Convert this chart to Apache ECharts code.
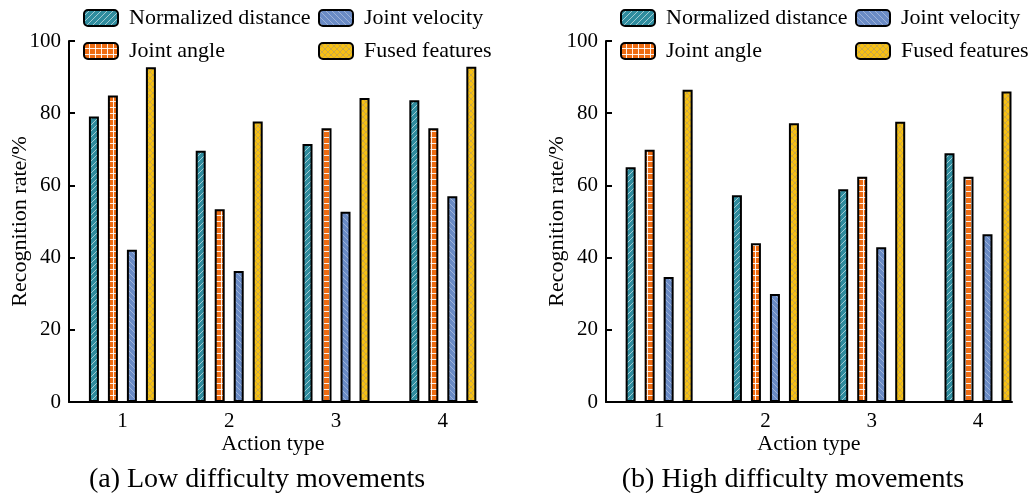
<!DOCTYPE html>
<html>
<head>
<meta charset="utf-8">
<script src="https://cdn.jsdelivr.net/npm/echarts@6/dist/echarts.min.js"></script>
<style>
  html, body { margin: 0; padding: 0; background: #fff; }
  #main { width: 1029px; height: 501px; }
</style>
</head>
<body>
<div id="main"></div>
<script>
// action types on the x axis
const categories = [1, 2, 3, 4];
const seriesNames = ['Normalized distance', 'Joint angle', 'Joint velocity', 'Fused features'];

// (a) low difficulty movements, recognition rate in %
const lowDist  = [79.1, 69.6, 71.5, 83.6];
const lowAngle = [84.9, 53.4, 75.8, 75.8];
const lowVel   = [42.2, 36.3, 52.7, 57.0];
const lowFused = [92.7, 77.7, 84.2, 92.9];

// (b) high difficulty movements
const highDist  = [65.0, 57.3, 58.9, 68.9];
const highAngle = [69.9, 44.0, 62.4, 62.4];
const highVel   = [34.6, 29.9, 42.9, 46.5];
const highFused = [86.5, 77.2, 77.6, 86.0];

const yTicks = [0, 20, 40, 60, 80, 100];
const captions = ['(a) Low difficulty movements', '(b) High difficulty movements'];

const serif = 'Liberation Serif';

// small canvas tiles used as hatch fills
function makePattern(bg, stroke, width, draw) {
    const s = 6;
    const c = document.createElement('canvas');
    c.width = s; c.height = s;
    const ctx = c.getContext('2d');
    ctx.fillStyle = bg;
    ctx.fillRect(0, 0, s, s);
    ctx.strokeStyle = stroke;
    ctx.lineWidth = width;
    draw(ctx, s);
    return { image: c, repeat: 'repeat' };
}
function slash(ctx, s) {
    ctx.beginPath();
    ctx.moveTo(-1, s + 1); ctx.lineTo(s + 1, -1);
    ctx.moveTo(-1, 1); ctx.lineTo(1, -1);
    ctx.moveTo(s - 1, s + 1); ctx.lineTo(s + 1, s - 1);
    ctx.stroke();
}
function backslash(ctx, s) {
    ctx.beginPath();
    ctx.moveTo(-1, -1); ctx.lineTo(s + 1, s + 1);
    ctx.moveTo(s - 1, -1); ctx.lineTo(s + 1, 1);
    ctx.moveTo(-1, s - 1); ctx.lineTo(1, s + 1);
    ctx.stroke();
}
function grid(ctx, s) {
    ctx.beginPath();
    ctx.moveTo(s - 0.5, 0); ctx.lineTo(s - 0.5, s);
    ctx.moveTo(0, s - 0.5); ctx.lineTo(s, s - 0.5);
    ctx.stroke();
}
function cross(ctx, s) {
    slash(ctx, s);
    backslash(ctx, s);
}

const fills = [
    makePattern('#2f8c9e', 'rgba(255,255,255,0.55)', 1, slash),
    makePattern('#ee6c12', 'rgba(255,255,255,0.9)', 1, grid),
    makePattern('#6a8bc5', 'rgba(255,255,255,0.35)', 1, backslash),
    makePattern('#f6c014', 'rgba(170,150,110,0.55)', 1, cross)
];

const panels = [
    [lowDist, lowAngle, lowVel, lowFused],
    [highDist, highAngle, highVel, highFused]
];

const grids = [
    { left: 69, right: 552, top: 41, bottom: 99 },
    { left: 606, right: 17, top: 41, bottom: 99 }
];

const xAxes = [], yAxes = [], series = [], legends = [], titles = [];
panels.forEach(function (vals, p) {
    xAxes.push({
        type: 'value', gridIndex: p, min: 0.5, max: 4.32, interval: 0.5,
        name: 'Action type', nameLocation: 'middle', nameGap: 31, nameMoveOverlap: false,
        nameTextStyle: { fontFamily: serif, fontSize: 22, color: '#000' },
        axisLine: { show: true, lineStyle: { color: '#000', width: 2 } },
        axisTick: { show: false },
        splitLine: { show: false },
        axisLabel: {
            fontFamily: serif, fontSize: 21, color: '#000', margin: 9,
            showMinLabel: false, showMaxLabel: false,
            formatter: function (v) { return categories.indexOf(v) >= 0 ? String(v) : ''; }
        }
    });
    yAxes.push({
        type: 'value', gridIndex: p, min: yTicks[0], max: yTicks[yTicks.length - 1], interval: 20,
        name: 'Recognition rate/%', nameLocation: 'middle', nameGap: 38, nameMoveOverlap: false,
        nameTextStyle: { fontFamily: serif, fontSize: 22, color: '#000' },
        axisLine: { show: true, lineStyle: { color: '#000', width: 2 } },
        axisTick: { show: true, inside: true, length: 6, lineStyle: { color: '#000', width: 2 } },
        splitLine: { show: false },
        axisLabel: { fontFamily: serif, fontSize: 21, color: '#000', margin: 8 }
    });
    vals.forEach(function (arr, i) {
        series.push({
            name: seriesNames[i], type: 'bar', xAxisIndex: p, yAxisIndex: p,
            barWidth: 10, barGap: '90%',
            itemStyle: { color: fills[i], borderColor: '#000', borderWidth: 2 },
            data: arr.map(function (v, k) { return [categories[k], v]; })
        });
    });
    const colLeft = [grids[p].left + 14, grids[p].left + 249];
    [[seriesNames[0], seriesNames[1]], [seriesNames[2], seriesNames[3]]].forEach(function (names, c) {
        legends.push({
            data: names, orient: 'vertical', left: colLeft[c], top: 7,
            itemWidth: 34, itemHeight: 16, itemGap: 11, padding: 0,
            selectedMode: false,
            textStyle: { fontFamily: serif, fontSize: 22, color: '#000', padding: [0, 0, 0, 6] }
        });
    });
    titles.push({
        text: captions[p], left: p === 0 ? 252 : 788, top: 461, textAlign: 'center',
        textStyle: { fontFamily: serif, fontSize: 28, fontWeight: 'normal', color: '#000' }
    });
});

const myChart = echarts.init(document.getElementById('main'), null, { renderer: 'canvas' });
myChart.setOption({
    backgroundColor: '#fff',
    animation: false,
    title: titles,
    legend: legends,
    grid: grids,
    xAxis: xAxes,
    yAxis: yAxes,
    series: series
});
</script>
</body>
</html>
